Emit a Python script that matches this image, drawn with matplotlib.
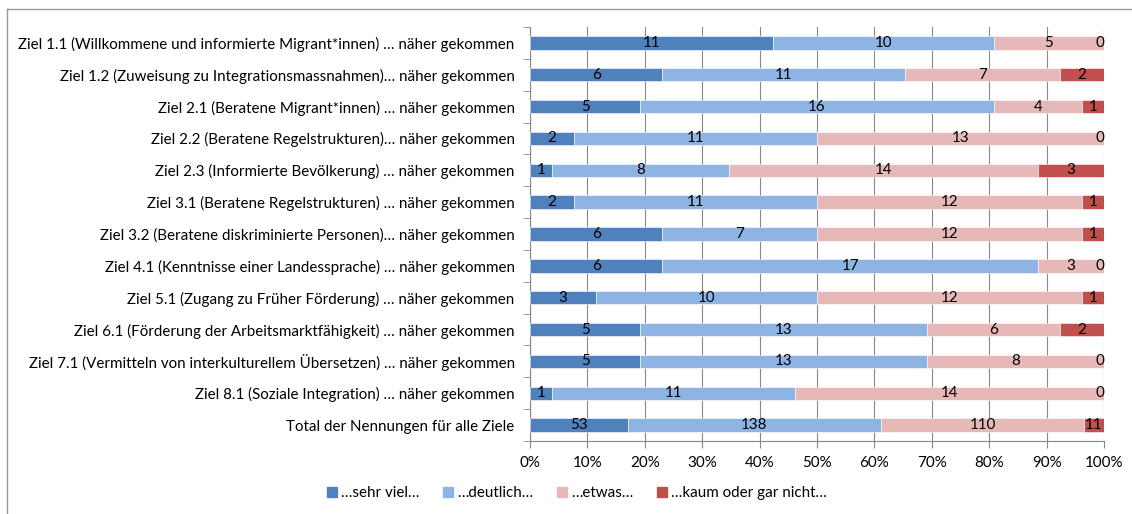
import matplotlib
matplotlib.use("Agg")
import matplotlib.pyplot as plt
import numpy as np
from matplotlib.lines import Line2D

plt.rcParams['font.family'] = ['Lato', 'DejaVu Sans']

categories = [
    "Ziel 1.1 (Willkommene und informierte Migrant*innen) … näher gekommen",
    "Ziel 1.2 (Zuweisung zu Integrationsmassnahmen)… näher gekommen",
    "Ziel 2.1 (Beratene Migrant*innen) … näher gekommen",
    "Ziel 2.2 (Beratene Regelstrukturen)… näher gekommen",
    "Ziel 2.3 (Informierte Bevölkerung) … näher gekommen",
    "Ziel 3.1 (Beratene Regelstrukturen) … näher gekommen",
    "Ziel 3.2 (Beratene diskriminierte Personen)… näher gekommen",
    "Ziel 4.1 (Kenntnisse einer Landessprache) … näher gekommen",
    "Ziel 5.1 (Zugang zu Früher Förderung) … näher gekommen",
    "Ziel 6.1 (Förderung der Arbeitsmarktfähigkeit) … näher gekommen",
    "Ziel 7.1 (Vermitteln von interkulturellem Übersetzen) … näher gekommen",
    "Ziel 8.1 (Soziale Integration) … näher gekommen",
    "Total der Nennungen für alle Ziele",
]
sehr_viel = [11, 6, 5, 2, 1, 2, 6, 6, 3, 5, 5, 1, 53]
deutlich = [10, 11, 16, 11, 8, 11, 7, 17, 10, 13, 13, 11, 138]
etwas = [5, 7, 4, 13, 14, 12, 12, 3, 12, 6, 8, 14, 110]
kaum = [0, 2, 1, 0, 3, 1, 1, 0, 1, 2, 0, 0, 11]
series_names = ["…sehr viel…", "…deutlich…", "…etwas…", "…kaum oder gar nicht…"]
colors = ["#4F81BD", "#8EB4E3", "#E6B9B8", "#C0504D"]

FS = 10.9

fig = plt.figure(figsize=(11.32, 5.14), dpi=100)
ax = fig.add_axes([530/1132, 1-441/514, (1104-530)/1132, (441-27)/514])

data = np.array([sehr_viel, deutlich, etwas, kaum], dtype=float)
totals = data.sum(axis=0)
pct = data / totals
n = len(categories)
y = np.arange(n)
left = np.zeros(n)
for i in range(4):
    ax.barh(y, pct[i], left=left, height=0.42, color=colors[i], zorder=3,
            edgecolor='white', linewidth=0.4)
    for j in range(n):
        cx = left[j] + pct[i][j] / 2
        if data[i][j] == 0:
            cx = min(left[j], 0.993)
        ax.text(cx, y[j], f"{int(data[i][j])}", ha='center', va='center',
                fontsize=FS, color='black', zorder=4)
    left = left + pct[i]

ax.set_xlim(0, 1)
ax.set_ylim(n - 0.5, -0.5)
ax.set_xticks(np.linspace(0, 1, 11))
ax.set_xticklabels([f"{int(v)}%" for v in np.linspace(0, 100, 11)], fontsize=FS)
ax.set_yticks(y)
ax.set_yticklabels(categories, fontsize=FS)
ax.tick_params(axis='y', length=0, pad=11)
ax.set_yticks(np.arange(-0.5, n, 1), minor=True)
ax.tick_params(axis='y', which='minor', length=5, color='#888888')
ax.tick_params(axis='x', length=5, color='#888888', pad=6)
ax.grid(axis='x', color='#888888', linewidth=0.8, zorder=0)
for s in ['top', 'right']:
    ax.spines[s].set_visible(False)
for s in ['left', 'bottom']:
    ax.spines[s].set_color('#888888')

handles = [Line2D([0], [0], marker='s', linestyle='none', markersize=7,
                  markerfacecolor=c, markeredgecolor=c) for c in colors]
fig.legend(handles, series_names, loc='center', bbox_to_anchor=(575/1132, 1-493/514),
           ncol=4, frameon=False, fontsize=FS, handletextpad=0.0, columnspacing=1.3,
           handlelength=1.2)

# chart border (top and left visible)
fig.add_artist(Line2D([7/1132, 1], [1-9/514, 1-9/514], color='#999999', linewidth=1))
fig.add_artist(Line2D([7/1132, 7/1132], [0, 1-9/514], color='#999999', linewidth=1))

fig.savefig("out.png", dpi=100)
